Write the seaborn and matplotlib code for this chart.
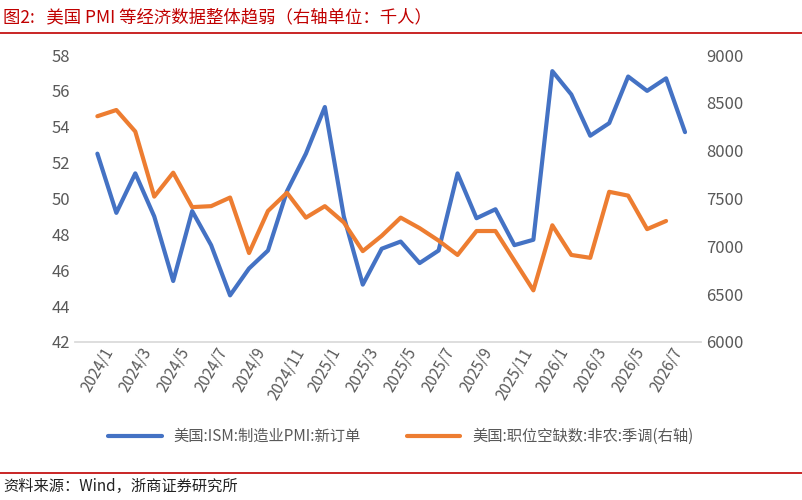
import matplotlib
matplotlib.use("Agg")
import matplotlib.pyplot as plt
import seaborn as sns
import pandas as pd
import numpy as np

sns.set_theme(style="white")
plt.rcParams['font.family'] = ['Noto Sans CJK SC', 'DejaVu Sans']

months = [f"{y}/{m}" for y in (2024, 2025, 2026) for m in range(1, 13)][:32]
ism = [52.5, 49.2, 51.4, 49.0, 45.4, 49.3, 47.4, 44.6, 46.1, 47.1, 50.4, 52.5,
       55.1, 49.0, 45.2, 47.2, 47.6, 46.4, 47.1, 51.4, 48.9, 49.4, 47.4, 47.7,
       57.1, 55.8, 53.5, 54.2, 56.8, 56.0, 56.7, 53.7]
jolts = [8360, 8425, 8200, 7520, 7770, 7410, 7420, 7510, 6930, 7370, 7560, 7300,
         7420, 7250, 6950, 7110, 7300, 7190, 7060, 6910, 7160, 7160, 6850, 6540,
         7220, 6910, 6880, 7570, 7530, 7180, 7265]

blue, orange = "#4472C4", "#ED7D31"
df1 = pd.DataFrame({"x": np.arange(len(ism)), "y": ism})
df2 = pd.DataFrame({"x": np.arange(len(jolts)), "y": jolts})

fig = plt.figure(figsize=(8.02, 5.0), dpi=100)
ax = fig.add_axes([0.094, 0.316, 0.78, 0.574])
ax2 = ax.twinx()
sns.lineplot(data=df1, x="x", y="y", ax=ax, color=blue, lw=3, label="美国:ISM:制造业PMI:新订单", legend=False)
sns.lineplot(data=df2, x="x", y="y", ax=ax2, color=orange, lw=3, label="美国:职位空缺数:非农:季调(右轴)", legend=False)

ax.set_ylim(42, 58); ax.set_yticks(range(42, 59, 2))
ax2.set_ylim(6000, 9000); ax2.set_yticks(range(6000, 9001, 500))
ax.set_xlim(-1.16, 31.84)
ax.set_xticks(range(0, 32, 2))
ax.set_xticklabels(months[0:32:2], rotation=60, fontsize=11, color="#595959")
for a in (ax, ax2):
    a.set_xlabel(""); a.set_ylabel("")
    for s in a.spines.values():
        s.set_visible(False)
    a.tick_params(axis="y", labelsize=12, labelcolor="#595959", length=0)
ax.spines["bottom"].set_visible(True)
ax.spines["bottom"].set_color("#D9D9D9")
ax.tick_params(axis="x", length=0, pad=2)

h1, l1 = ax.get_legend_handles_labels()
h2, l2 = ax2.get_legend_handles_labels()
fig.legend(h1 + h2, l1 + l2, loc="center", bbox_to_anchor=(0.5, 0.127), ncol=2,
           frameon=False, fontsize=11, handlelength=3.5, columnspacing=3,
           labelcolor="#595959")

red = "#C00000"
fig.text(0.004, 0.965, "图2:   美国 PMI 等经济数据整体趋弱（右轴单位：千人）", color=red, fontsize=12.5, va="center")
fig.add_artist(plt.Line2D([0, 1], [0.935, 0.935], color=red, lw=1.2))
fig.add_artist(plt.Line2D([0, 1], [0.055, 0.055], color=red, lw=1.2))
fig.text(0.004, 0.027, "资料来源：Wind，浙商证券研究所", fontsize=11, va="center", color="#222222")

fig.savefig("out.png", dpi=100)
